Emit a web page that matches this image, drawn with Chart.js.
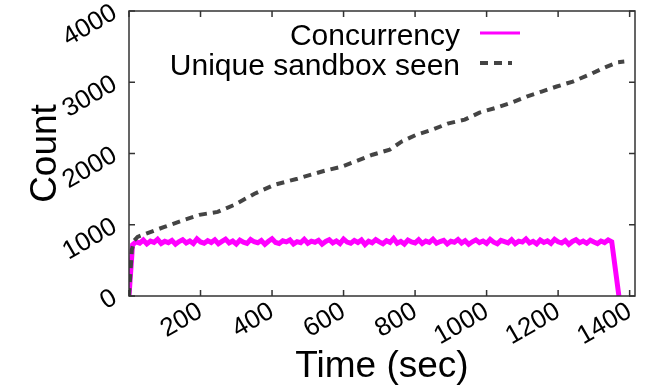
<!DOCTYPE html>
<html>
<head>
<meta charset="utf-8">
<script src="https://cdn.jsdelivr.net/npm/chart.js@4.4.0/dist/chart.umd.min.js"></script>
<style>
  html, body { margin: 0; padding: 0; background: #fff; }
</style>
</head>
<body>
<canvas id="grafico" width="647" height="390"></canvas>
<script>
// Ticks de los ejes
const xTicks = [0, 200, 400, 600, 800, 1000, 1200, 1400];
const yTicks = [0, 1000, 2000, 3000, 4000];

// Concurrency: subida inicial, meseta con ruido (cada 10 s desde t=20) y caida final
const concRampT = [0, 10];
const concRampV = [0, 720];
const concPlateau = [
  760, 742, 785, 731, 770, 752, 795, 738, 768, 749,
  781, 727, 764, 790, 745, 772, 736, 801, 758, 741,
  777, 750, 788, 733, 766, 798, 744, 771, 729, 785,
  756, 739, 792, 761, 747, 779, 725, 768, 803, 752,
  737, 774, 759, 786, 731, 763, 748, 795, 740, 770,
  755, 782, 728, 766, 791, 744, 773, 737, 799, 757,
  742, 780, 751, 787, 722, 769, 746, 792, 759, 734,
  776, 753, 808, 741, 767, 729, 784, 758, 745, 789,
  736, 771, 752, 797, 740, 764, 782, 731, 768, 755,
  793, 743, 776, 727, 761, 788, 749, 772, 738, 795,
  756, 732, 781, 763, 746, 790, 735, 770, 757, 801,
  744, 767, 730, 785, 752, 774, 739, 796, 761, 743,
  779, 726, 765, 789, 748, 771, 740, 783, 757, 735,
  772, 750, 786, 761
];
const concEndT = [1370];
const concEndV = [0];

// Unique sandbox seen
const uniqueT = [0, 8, 15, 24, 50, 99, 155, 197, 248, 295, 351, 407, 471, 547, 594, 639, 681,
  729, 762, 804, 849, 891, 939, 980, 1028, 1070, 1112, 1154, 1196, 1241, 1288, 1330, 1366, 1385];
const uniqueV = [0, 650, 780, 830, 880, 970, 1069, 1139, 1181, 1280, 1435, 1561, 1646, 1758, 1814, 1899, 1983,
  2053, 2166, 2264, 2335, 2419, 2475, 2574, 2644, 2714, 2799, 2869, 2940, 3010, 3108, 3207, 3280, 3290];

document.addEventListener('DOMContentLoaded', () => {
  const concData = [];
  concRampT.forEach((t, i) => concData.push({ x: t, y: concRampV[i] }));
  concPlateau.forEach((v, i) => concData.push({ x: 20 + i * 10, y: v }));
  concEndT.forEach((t, i) => concData.push({ x: t, y: concEndV[i] }));

  const uniqueData = uniqueT.map((t, i) => ({ x: t, y: uniqueV[i] }));

  // Marco con ticks hacia dentro y leyenda dentro del area
  const marcoPlugin = {
    id: 'marco',
    afterDatasetsDraw(chart) {
      const { ctx, chartArea: a, scales: { x, y } } = chart;
      ctx.save();
      ctx.strokeStyle = '#333';
      ctx.lineWidth = 1.5;
      ctx.strokeRect(a.left, a.top, a.right - a.left, a.bottom - a.top);
      ctx.beginPath();
      xTicks.forEach(v => {
        const px = x.getPixelForValue(v);
        ctx.moveTo(px, a.bottom); ctx.lineTo(px, a.bottom - 6);
        ctx.moveTo(px, a.top); ctx.lineTo(px, a.top + 6);
      });
      yTicks.forEach(v => {
        const py = y.getPixelForValue(v);
        ctx.moveTo(a.left, py); ctx.lineTo(a.left + 6, py);
        ctx.moveTo(a.right, py); ctx.lineTo(a.right - 6, py);
      });
      ctx.stroke();

      // leyenda
      const ds = chart.data.datasets;
      ctx.font = '30px "Liberation Sans", Arial, sans-serif';
      ctx.fillStyle = '#000';
      ctx.textAlign = 'right';
      ctx.textBaseline = 'alphabetic';
      const rows = [45, 75];
      ds.forEach((d, i) => {
        ctx.fillText(d.label, 460, rows[i]);
        ctx.beginPath();
        ctx.strokeStyle = d.borderColor;
        ctx.lineWidth = i === 0 ? 3 : 4;
        ctx.setLineDash(d.borderDash || []);
        ctx.moveTo(480, rows[i] - 12);
        ctx.lineTo(i === 0 ? 520 : 512, rows[i] - 12);
        ctx.stroke();
        ctx.setLineDash([]);
      });
      ctx.restore();
    }
  };

  const sinPadding = s => {
    s.paddingTop = 0; s.paddingBottom = 0; s.paddingLeft = 0; s.paddingRight = 0;
  };

  const fuenteTicks = { family: '"Liberation Sans", Arial, sans-serif', size: 26 };
  const fuenteTitulo = { family: '"Liberation Sans", Arial, sans-serif', size: 37 };

  new Chart(document.getElementById('grafico'), {
    type: 'line',
    data: {
      datasets: [
        {
          label: 'Concurrency',
          data: concData,
          borderColor: '#ff00ff',
          borderWidth: 5,
          pointRadius: 0,
          tension: 0,
          order: 2
        },
        {
          label: 'Unique sandbox seen',
          data: uniqueData,
          borderColor: '#444444',
          borderWidth: 4,
          borderDash: [8, 6],
          pointRadius: 0,
          tension: 0,
          order: 1
        }
      ]
    },
    options: {
      responsive: false,
      animation: false,
      layout: { padding: { top: 11, right: 12, left: 0, bottom: 0 } },
      plugins: {
        legend: { display: false },
        tooltip: { enabled: false }
      },
      scales: {
        x: {
          type: 'linear',
          min: 0,
          max: 1415,
          grid: { display: false },
          border: { display: false },
          afterBuildTicks: s => { s.ticks = xTicks.map(v => ({ value: v })); },
          ticks: {
            autoSkip: false,
            minRotation: 30,
            maxRotation: 30,
            padding: -8,
            color: '#000',
            font: fuenteTicks,
            callback: v => (v === 0 ? '' : String(v))
          },
          title: { display: true, text: 'Time (sec)', color: '#000', font: fuenteTitulo, padding: { top: 0, bottom: 1 } },
          afterFit: s => { s.height = 94; sinPadding(s); }
        },
        y: {
          min: 0,
          max: 4000,
          grid: { display: false },
          border: { display: false },
          afterBuildTicks: s => { s.ticks = yTicks.map(v => ({ value: v })); },
          ticks: {
            autoSkip: false,
            minRotation: 30,
            maxRotation: 30,
            padding: 6,
            color: '#000',
            font: fuenteTicks,
            callback: v => String(v)
          },
          title: { display: true, text: 'Count', color: '#000', font: fuenteTitulo, padding: { top: 24, bottom: 0 } },
          afterFit: s => { s.width = 129; sinPadding(s); }
        }
      }
    },
    plugins: [marcoPlugin]
  });
});
</script>
</body>
</html>
